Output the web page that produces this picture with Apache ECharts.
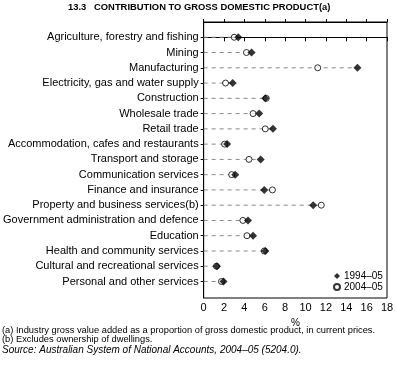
<!DOCTYPE html>
<html><head><meta charset="utf-8">
<script src="https://cdn.jsdelivr.net/npm/echarts@6/dist/echarts.min.js"></script>
<style>html,body{margin:0;padding:0;background:#fff}#c{width:397px;height:378px}</style>
</head><body><div id="c"></div>
<script>
const categories = [
  'Agriculture, forestry and fishing',
  'Mining',
  'Manufacturing',
  'Electricity, gas and water supply',
  'Construction',
  'Wholesale trade',
  'Retail trade',
  'Accommodation, cafes and restaurants',
  'Transport and storage',
  'Communication services',
  'Finance and insurance',
  'Property and business services(b)',
  'Government administration and defence',
  'Education',
  'Health and community services',
  'Cultural and recreational services',
  'Personal and other services'
];
const series1994 = [3.4, 4.7, 15.1, 2.85, 6.05, 5.45, 6.8, 2.3, 5.6, 3.1, 5.95, 10.75, 4.35, 4.85, 6.05, 1.3, 1.95];
const series2004 = [3.0, 4.2, 11.2, 2.15, 6.15, 4.85, 6.05, 2.05, 4.45, 2.75, 6.75, 11.55, 3.85, 4.25, 5.95, 1.25, 1.75];
const seriesNames = ['1994–05', '2004–05'];
const xTickValues = [0, 2, 4, 6, 8, 10, 12, 14, 16, 18];

const FONT = '"Liberation Sans", Arial, sans-serif';
const rows = categories.map((c, i) => i);
const dashData = rows.map(i => [i, Math.max(series1994[i], series2004[i])]);

const chart = echarts.init(document.getElementById('c'), null, {renderer: 'canvas'});
chart.setOption({
  animation: false,
  textStyle: {fontFamily: FONT},
  grid: {left: 171, right: 10, top: 22, bottom: 80, show: true, borderColor: '#000', borderWidth: 1, backgroundColor: 'transparent'},
  xAxis: [{
    type: 'value', min: xTickValues[0], max: xTickValues[xTickValues.length - 1], interval: 2, position: 'bottom',
    axisLine: {show: true, lineStyle: {color: '#000', width: 1}},
    axisTick: {show: true, length: 4, lineStyle: {color: '#000'}},
    axisLabel: {fontFamily: FONT, fontSize: 11, color: '#000', margin: 4},
    splitLine: {show: false},
    name: '%', nameLocation: 'middle', nameGap: 14,
    nameTextStyle: {fontFamily: FONT, fontSize: 10, color: '#000'}
  }, {
    type: 'value', min: xTickValues[0], max: xTickValues[xTickValues.length - 1], interval: 2, position: 'top',
    axisLine: {show: true, lineStyle: {color: '#000', width: 1}},
    axisTick: {show: true, length: 3, lineStyle: {color: '#000'}},
    axisLabel: {show: false},
    splitLine: {show: false}
  }],
  yAxis: {
    type: 'value', inverse: true, min: -1, max: 17.08, interval: 1,
    axisLine: {show: true, lineStyle: {color: '#000', width: 1}},
    axisTick: {show: true, length: 3, customValues: rows, lineStyle: {color: '#000'}},
    axisLabel: {customValues: rows, formatter: v => categories[v] || '', fontFamily: FONT, fontSize: 11, color: '#000', margin: 5},
    splitLine: {show: false}
  },
  legend: {
    data: [
      {name: seriesNames[0], icon: 'diamond', itemStyle: {color: '#000', borderWidth: 0}},
      {name: seriesNames[1], icon: 'emptyCircle', itemStyle: {color: '#000', borderColor: '#000', borderWidth: 1}}
    ],
    orient: 'vertical', left: 328, top: 266, itemGap: 1, itemWidth: 6, itemHeight: 6,
    textStyle: {fontFamily: FONT, fontSize: 10, lineHeight: 10, color: '#000', padding: [0, 0, 0, -1]}
  },
  series: [{
    type: 'custom', silent: true, xAxisIndex: 0,
    data: dashData, encode: {x: 1, y: 0},
    renderItem: (params, api) => {
      const i = api.value(0), m = api.value(1);
      const p0 = api.coord([0, i]), p1 = api.coord([m, i]);
      return {type: 'line', shape: {x1: p0[0], y1: p0[1], x2: p1[0], y2: p1[1]},
        style: {stroke: '#888', lineWidth: 1, lineDash: [4, 4]}};
    }
  }, {
    name: seriesNames[1], type: 'scatter', symbol: 'circle', symbolSize: 6,
    itemStyle: {color: '#fff', borderColor: '#000', borderWidth: 1},
    data: series2004.map((v, i) => [v, i]), z: 3
  }, {
    name: seriesNames[0], type: 'scatter', symbol: 'diamond', symbolSize: 8,
    itemStyle: {color: '#000'},
    data: series1994.map((v, i) => [v, i]), z: 4
  }],
  graphic: [
    {type: 'text', left: 68, top: 3, style: {text: '13.3   CONTRIBUTION TO GROSS DOMESTIC PRODUCT(a)', font: 'bold 9.4px ' + FONT, fill: '#000'}},
    {type: 'text', x: 2, y: 330, style: {text: '(a) Industry gross value added as a proportion of gross domestic product, in current prices.', font: '9.3px ' + FONT, fill: '#000', verticalAlign: 'middle'}},
    {type: 'text', x: 2, y: 339.5, style: {text: '(b) Excludes ownership of dwellings.', font: '9.3px ' + FONT, fill: '#000', verticalAlign: 'middle'}},
    {type: 'text', x: 2, y: 350, style: {text: 'Source: Australian System of National Accounts, 2004–05 (5204.0).', font: 'italic 10px ' + FONT, fill: '#000', verticalAlign: 'middle'}}
  ]
});
</script>
</body></html>
